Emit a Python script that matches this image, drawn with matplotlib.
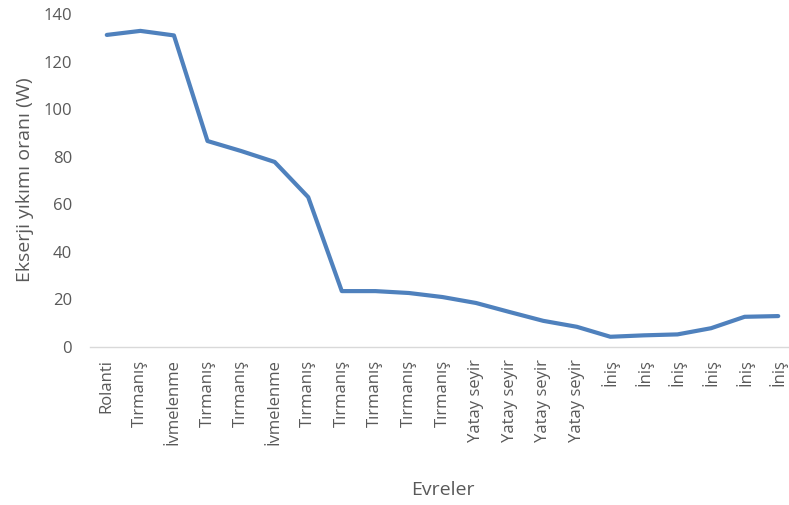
import matplotlib
matplotlib.use("Agg")
import matplotlib.pyplot as plt

phases = ["Rolanti", "Tırmanış", "İvmelenme", "Tırmanış", "Tırmanış", "İvmelenme",
          "Tırmanış", "Tırmanış", "Tırmanış", "Tırmanış", "Tırmanış",
          "Yatay seyir", "Yatay seyir", "Yatay seyir", "Yatay seyir",
          "İniş", "İniş", "İniş", "İniş", "İniş", "İniş"]
exergy_destruction = [131.2, 132.9, 131.0, 86.6, 82.4, 77.8, 63.0, 23.5, 23.5, 22.7, 21.0,
                      18.5, 14.7, 11.0, 8.5, 4.3, 4.9, 5.3, 7.9, 12.7, 13.0]
y_ticks = [0, 20, 40, 60, 80, 100, 120, 140]

plt.rcParams["font.family"] = ["Open Sans", "DejaVu Sans"]
text_color = "#595959"

fig = plt.figure(figsize=(7.89, 5.05), dpi=100)
ax = fig.add_axes([90 / 789, 1 - 347 / 505, 705 / 789, (347 - 14) / 505])

x = list(range(len(phases)))
ax.plot(x, exergy_destruction, color="#4F81BD", lw=3,
        solid_capstyle="round", solid_joinstyle="round")

ax.set_xlim(-0.5, len(phases) - 0.5)
ax.set_ylim(0, 140)
ax.set_yticks(y_ticks)
ax.set_xticks(x)
ax.set_xticklabels(phases, rotation=90, va="top", ha="center")

for side in ("top", "right", "left"):
    ax.spines[side].set_visible(False)
ax.spines["bottom"].set_color("#D9D9D9")
ax.spines["bottom"].set_linewidth(1.0)

ax.tick_params(axis="y", length=0, pad=13, labelsize=12, labelcolor=text_color)
ax.tick_params(axis="x", length=0, pad=9, labelsize=12, labelcolor=text_color)

fig.text(25 / 789, 1 - 180 / 505, "Ekserji yıkımı oranı (W)", rotation=90,
         ha="center", va="center", fontsize=14, color=text_color)
fig.text(443 / 789, 1 - 490 / 505, "Evreler", ha="center", va="center",
         fontsize=14, color=text_color)

fig.savefig("out.png", dpi=100)
